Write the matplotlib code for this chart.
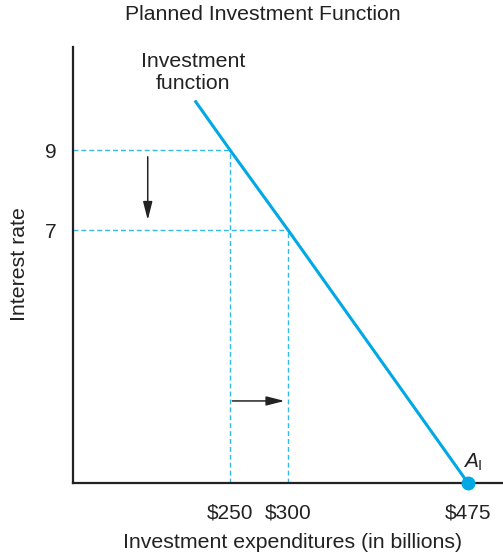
import matplotlib.pyplot as plt
import numpy as np

plt.rcParams['font.family'] = ['Liberation Sans', 'DejaVu Sans']
plt.rcParams['mathtext.fontset'] = 'custom'
plt.rcParams['mathtext.rm'] = 'Liberation Sans'
plt.rcParams['mathtext.it'] = 'Liberation Sans:italic'

# investment function (billions, interest rate %)
investimento = [194, 250, 300, 475]
juros = [10.25, 9, 7, 0]

# pontos marcados com linhas tracejadas
pontos_x = [250, 300]
pontos_y = [9, 7]

ticks_x = [250, 300, 475]
labels_x = ['$250', '$300', '$475']
ticks_y = [7, 9]

azul = '#00a8e4'
azul_claro = '#33b8ea'

# escala esquematica do desenho (nao linear)
ex_dados = [0, 250, 300, 475, 510]
ex_pix = [0, 157, 215, 395, 430]
ey_dados = [0, 7, 9, 11.6]
ey_pix = [0, 253, 333, 436]


def fx(v):
    return np.interp(v, ex_dados, ex_pix)


def fx_inv(v):
    return np.interp(v, ex_pix, ex_dados)


def fy(v):
    return np.interp(v, ey_dados, ey_pix)


def fy_inv(v):
    return np.interp(v, ey_pix, ey_dados)


fig = plt.figure(figsize=(5.03, 5.56), dpi=100)
ax = fig.add_axes([73/503, 73/556, 430/503, 436/556])
ax.set_xscale('function', functions=(fx, fx_inv))
ax.set_yscale('function', functions=(fy, fy_inv))
ax.set_xlim(0, 510)
ax.set_ylim(0, 11.6)

for s in ['top', 'right']:
    ax.spines[s].set_visible(False)
for s in ['left', 'bottom']:
    ax.spines[s].set_linewidth(1.6)
    ax.spines[s].set_color('#222222')

for px, py in zip(pontos_x, pontos_y):
    ax.plot([0, px], [py, py], color=azul_claro, lw=1, dashes=(3.5, 2.2))
    ax.plot([px, px], [0, py], color=azul_claro, lw=1, dashes=(3.5, 2.2))

ax.plot(investimento, juros, color=azul, lw=2.2, solid_capstyle='butt')
ax.plot([investimento[-1]], [juros[-1]], 'o', color=azul, ms=9, clip_on=False, zorder=5)

ax.set_xticks(ticks_x)
ax.set_xticklabels(labels_x)
ax.set_yticks(ticks_y)
ax.tick_params(length=0, labelsize=15, colors='#222222')
ax.tick_params(axis='x', pad=15)
ax.tick_params(axis='y', pad=12)

# setas
seta = dict(arrowstyle='-|>,head_length=1.1,head_width=0.28', color='#222222', lw=1.1,
            shrinkA=0, shrinkB=0)
ax.annotate('', xy=(119, 7.25), xytext=(119, 8.83), arrowprops=seta)
ax.annotate('', xy=(297, 2.27), xytext=(252, 2.27), arrowprops=seta)

ax.annotate('Investment\nfunction', xy=(investimento[0], juros[0]), xytext=(-2, 28),
            textcoords='offset pixels', ha='center', va='center', fontsize=15.3,
            color='#222222', linespacing=1.15)
ax.annotate(r'$A_{\mathrm{I}}$', xy=(investimento[-1], juros[-1]), xytext=(-5, 15),
            textcoords='offset pixels', ha='left', va='baseline', fontsize=15,
            color='#222222')

fig.text(263/503, 1 - 15/556, 'Planned Investment Function', ha='center', va='center',
         fontsize=15.3, color='#222222')
fig.text(293/503, 1 - 543/556, 'Investment expenditures (in billions)', ha='center',
         va='center', fontsize=15.3, color='#222222')
fig.text(20/503, 1 - 264/556, 'Interest rate', ha='center', va='center', rotation=90,
         fontsize=15.3, color='#222222')

fig.savefig('out.png', dpi=100)
